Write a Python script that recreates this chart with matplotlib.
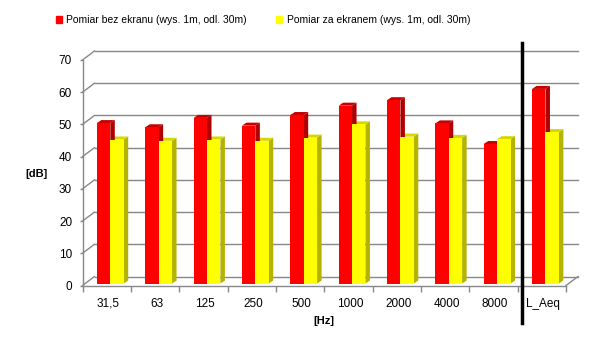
"""
Poziom dzwieku przed i za ekranem akustycznym, pasma oktawowe + L_Aeq.
Wykres slupkowy w stylu 3D (jak w Excelu).
"""

import numpy as np
import matplotlib
matplotlib.use('Agg')
from matplotlib import pyplot as plt
from matplotlib.patches import Patch, Polygon
import matplotlib.transforms as mtransforms

# INPUT -----------------------
categories  = ['31,5', '63', '125', '250', '500', '1000', '2000', '4000', '8000', 'L_Aeq']
bez_ekranu  = [49.8, 48.5, 51.4, 49.0, 52.3, 55.2, 56.9, 49.7, 43.3, 60.4]
za_ekranem  = [44.7, 44.3, 44.7, 44.3, 45.3, 49.4, 45.6, 45.2, 44.8, 47.0]
label_bez   = 'Pomiar bez ekranu (wys. 1m, odl. 30m)'
label_za    = 'Pomiar za ekranem (wys. 1m, odl. 30m)'
yticks      = np.arange(0, 71, 10)
# -----------------------------

plt.rcParams['font.family'] = ['Liberation Sans', 'DejaVu Sans']

W, H     = 605, 350
dpi      = 100
fig      = plt.figure(figsize=(W/dpi, H/dpi), dpi=dpi)
ax_l, ax_r, ax_b, ax_t = 82.5, 566.0, 285.5, 60.0      # px (od gory)
ax       = fig.add_axes([ax_l/W, 1-ax_b/H, (ax_r-ax_l)/W, (ax_b-ax_t)/H])
ncat     = len(categories)
ax.set_xlim(0, ncat)
ax.set_ylim(0, 70)
for s in ax.spines.values():
    s.set_visible(False)

def shift(x, y, px, py):
    """przesuniecie punktu (dane) o px,py pikseli"""
    p = ax.transData.transform((x, y)) + np.array([px, py])
    return ax.transData.inverted().transform(p)

gray     = '#888888'
lw_grid  = 1.0
wall_dx, wall_dy = 12, 9
bar_dx,  bar_dy  = 4.5, 3
b0       = shift(0, 0, 0, 2)[1]       # slupki lekko w glab
wbar     = 13.4 / ((ax_r-ax_l)/ncat)
x0       = 14.4 / ((ax_r-ax_l)/ncat)

# tylna sciana + lewa sciana
for v in yticks:
    p0 = shift(0, v, wall_dx, wall_dy)
    p1 = shift(ncat, v, wall_dx, wall_dy)
    ax.plot([p0[0], p1[0]], [p0[1], p1[1]], color=gray, lw=lw_grid, clip_on=False, zorder=1)
    ax.plot([0, p0[0]], [v, p0[1]], color=gray, lw=lw_grid, clip_on=False, zorder=1)
p1 = shift(ncat, 0, wall_dx, wall_dy)
ax.plot([ncat, p1[0]], [0, p1[1]], color=gray, lw=lw_grid, clip_on=False, zorder=1)

# osie przednie
ax.plot([0, ncat], [0, 0], color=gray, lw=lw_grid, clip_on=False, zorder=5)
ax.plot([0, 0], [0, 70], color=gray, lw=lw_grid, clip_on=False, zorder=5)

# slupki
x   = np.arange(ncat)
def bars3d(xl, vals, c_front, c_side, c_top):
    ax.bar(xl, vals, width=wbar, bottom=b0, align='edge', color=c_front, lw=0, zorder=3)
    for xi, v in zip(xl, vals):
        xr  = xi + wbar
        top = b0 + v
        side = [(xr, b0), (xr, top), tuple(shift(xr, top, bar_dx, bar_dy)), tuple(shift(xr, b0, bar_dx, bar_dy))]
        cap  = [(xi, top), (xr, top), tuple(shift(xr, top, bar_dx, bar_dy)), tuple(shift(xi, top, bar_dx, bar_dy))]
        ax.add_patch(Polygon(side, closed=True, color=c_side, lw=0, zorder=2.9))
        ax.add_patch(Polygon(cap, closed=True, color=c_top, lw=0, zorder=2.9))

bars3d(x + x0 + wbar, za_ekranem, '#ffff00', '#b4b400', '#d6d600')
bars3d(x + x0, bez_ekranu, '#ff0000', '#b00000', '#c80000')

# linia oddzielajaca L_Aeq
xsep  = shift(ncat-1, 0, 4.5, 0)[0]
trans = mtransforms.blended_transform_factory(ax.transData, ax.transAxes)
ax.plot([xsep, xsep], [(ax_b-43)/(ax_b-ax_t), (ax_b-323)/(ax_b-ax_t)], color='black', lw=2.5,
        transform=trans, clip_on=False, zorder=6)

# ticks
fontsize = 8.5
ax.set_yticks(yticks)
ax.set_yticklabels([str(v) for v in yticks], fontsize=fontsize)
ax.tick_params(axis='y', length=2, width=lw_grid, color=gray, pad=5.5)
ax.set_xticks(np.arange(ncat+1))
ax.set_xticklabels([])
ax.tick_params(axis='x', which='major', length=4, width=lw_grid, color=gray, direction='out')
ax.set_xticks(x + 0.5 + 0.03, minor=True)
ax.set_xticklabels(categories, minor=True, fontsize=fontsize)
ax.tick_params(axis='x', which='minor', length=0, pad=9)

fig.text(36/W, 1-174/H, '[dB]', fontsize=8, fontweight='bold', ha='center', va='center')
fig.text(324/W, 1-321/H, '[Hz]', fontsize=8, fontweight='bold', ha='center', va='center')

handles = [Patch(color='#ff0000', label=label_bez), Patch(color='#ffff00', label=label_za)]
fig.legend(handles=handles, loc='center left', bbox_to_anchor=(56/W, 1-20/H), ncol=2,
           frameon=False, fontsize=7.5, handlelength=0.6, handleheight=0.6,
           handletextpad=0.4, columnspacing=2.8, borderpad=0, borderaxespad=0)

plt.savefig('out.png', dpi=dpi)
